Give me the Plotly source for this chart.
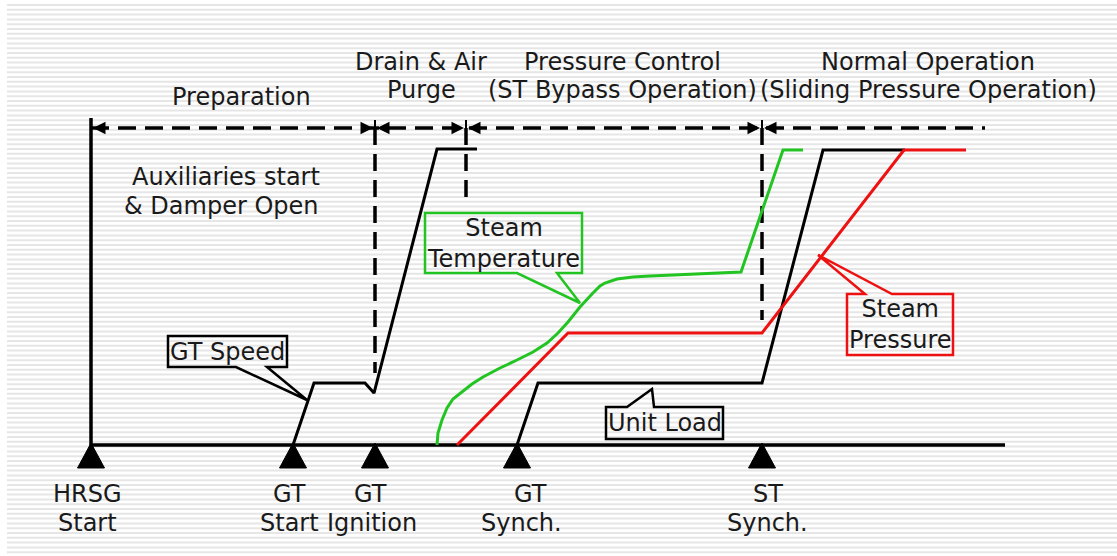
import numpy as np
import plotly.graph_objects as go

# ---------------- data (x in px-like time units, y = level above baseline) ----------------
event_x = [91, 293, 375, 517, 762]
event_top = ["HRSG", "GT", "GT", "GT", "ST"]
event_bottom = ["Start", "Start", "Ignition", "Synch.", "Synch."]
event_top_x = [87, 289, 370, 530, 768]
event_bottom_x = [87, 289, 372, 521, 767]

phase_bounds = [91, 375, 466, 762]
phase_end = 985
phase_line_y = 317
phase_dash_bottom = [None, 72, 248, 125]

phase_text_l1 = ["", "Drain & Air", "Pressure Control", "Normal Operation"]
phase_text_l2 = ["Preparation", "Purge", "(ST Bypass Operation)", "(Sliding Pressure Operation)"]
phase_text_x = [241, 421, 622, 928]

gt_speed_x = [293, 314, 365, 374, 437, 477]
gt_speed_y = [0, 62, 62, 52, 296, 296]

unit_load_x = [517, 538, 762, 823, 905]
unit_load_y = [0, 62, 62, 295, 295]

steam_press_x = [457, 568, 762, 904, 966]
steam_press_y = [0, 112, 112, 295, 295]

steam_temp_x = [437, 438, 442, 447, 453, 462, 472, 483, 500, 517, 533, 547, 558, 568,
                580, 592, 600, 605, 617, 633, 650, 741, 783, 803]
steam_temp_y = [0, 12, 25, 37, 46, 53, 61, 68, 77, 85, 93, 102, 112, 123,
                138, 151, 159, 162, 166, 168, 169, 173, 295, 295]

# callouts: box left, right, top, bottom, pointer side, base1, base2, tip x, tip y
callout_names = ["GT Speed", "Steam<br>Temperature", "Steam<br>Pressure", "Unit Load"]
callout_color = ["#000000", "#22c422", "#ee1111", "#000000"]
callout_box = [(168, 287, 109, 78), (425, 582, 232, 172), (847, 953, 151, 90), (606, 723, 38, 6)]
callout_ptr = [("bottom", 236, 267, 307, 45), ("bottom", 517, 557, 580, 142),
               ("top", 865, 892, 818, 190), ("top", 627, 654, 652, 56)]

axis_top = 327
baseline_end = 1005

TXT = "#1a1a1a"
FONT = "DejaVu Sans"
FS = 24

fig = go.Figure()

# background ruled stripes
stripe_path = "".join(f"M7,{445 - py:.2f} H1117 " for py in np.arange(5, 556, 4.8))
fig.add_shape(type="path", path=stripe_path, xref="x", yref="y",
              line=dict(color="#e6e6e6", width=2), layer="below")

# axes: vertical and baseline
fig.add_trace(go.Scatter(x=[event_x[0], event_x[0], baseline_end], y=[axis_top, 0, 0],
                         mode="lines", line=dict(color="black", width=3.5),
                         hoverinfo="skip", showlegend=False))

# dashed phase line and dashed verticals
fig.add_trace(go.Scatter(x=[phase_bounds[0], phase_end], y=[phase_line_y, phase_line_y],
                         mode="lines", line=dict(color="black", width=3.5, dash="18px,9px"),
                         hoverinfo="skip", showlegend=False))
for bx, bb in zip(phase_bounds, phase_dash_bottom):
    if bb is not None:
        fig.add_trace(go.Scatter(x=[bx, bx], y=[phase_line_y, bb], mode="lines",
                                 line=dict(color="black", width=3.5, dash="17px,9px"),
                                 hoverinfo="skip", showlegend=False))
        fig.add_trace(go.Scatter(x=[bx, bx], y=[phase_line_y + 8, phase_line_y - 8], mode="lines",
                                 line=dict(color="black", width=2),
                                 hoverinfo="skip", showlegend=False))

# arrowheads on phase line
for i, bx in enumerate(phase_bounds):
    fig.add_annotation(x=bx + 2, y=phase_line_y, ax=bx + 14, ay=phase_line_y,
                       xref="x", yref="y", axref="x", ayref="y", text="",
                       showarrow=True, arrowhead=2, arrowsize=1, arrowwidth=2.5, arrowcolor="black")
    if i > 0:
        fig.add_annotation(x=bx - 2, y=phase_line_y, ax=bx - 14, ay=phase_line_y,
                           xref="x", yref="y", axref="x", ayref="y", text="",
                           showarrow=True, arrowhead=2, arrowsize=1, arrowwidth=2.5, arrowcolor="black")

# curves
fig.add_trace(go.Scatter(x=gt_speed_x, y=gt_speed_y, mode="lines",
                         line=dict(color="black", width=3), showlegend=False))
fig.add_trace(go.Scatter(x=unit_load_x, y=unit_load_y, mode="lines",
                         line=dict(color="black", width=3), showlegend=False))
fig.add_trace(go.Scatter(x=steam_temp_x, y=steam_temp_y, mode="lines",
                         line=dict(color="#22c422", width=3), showlegend=False))
fig.add_trace(go.Scatter(x=steam_press_x, y=steam_press_y, mode="lines",
                         line=dict(color="#ee1111", width=3), showlegend=False))

# event triangles
tri_x, tri_y = [], []
for ex in event_x:
    tri_x += [ex - 13.5, ex + 13.5, ex, ex - 13.5, None]
    tri_y += [-23, -23, 2, -23, None]
fig.add_trace(go.Scatter(x=tri_x, y=tri_y, mode="lines", fill="toself", fillcolor="black",
                         line=dict(color="black", width=1), hoverinfo="skip", showlegend=False))

for tx, t in zip(event_top_x, event_top):
    fig.add_annotation(x=tx, y=-49, text=t, showarrow=False, xref="x", yref="y",
                       font=dict(family=FONT, size=FS, color=TXT))
for tx, t in zip(event_bottom_x, event_bottom):
    fig.add_annotation(x=tx, y=-78, text=t, showarrow=False, xref="x", yref="y",
                       font=dict(family=FONT, size=FS, color=TXT))

# phase texts
for px_, t1, t2 in zip(phase_text_x, phase_text_l1, phase_text_l2):
    if t1:
        fig.add_annotation(x=px_, y=383, text=t1, showarrow=False,
                           font=dict(family=FONT, size=FS, color=TXT))
        fig.add_annotation(x=px_, y=355, text=t2, showarrow=False,
                           font=dict(family=FONT, size=FS, color=TXT))
    else:
        fig.add_annotation(x=px_, y=348, text=t2, showarrow=False,
                           font=dict(family=FONT, size=FS, color=TXT))

fig.add_annotation(x=226, y=268, text="Auxiliaries start", showarrow=False,
                   font=dict(family=FONT, size=FS, color=TXT))
fig.add_annotation(x=221, y=239, text="&amp; Damper Open", showarrow=False,
                   font=dict(family=FONT, size=FS, color=TXT))

# callouts
for name, col, box, ptr in zip(callout_names, callout_color, callout_box, callout_ptr):
    L, R, T, B = box
    side, b1, b2, tx, ty = ptr
    if side == "bottom":
        path = f"M{L},{T} H{R} V{B} H{b2} L{tx},{ty} L{b1},{B} H{L} Z"
    else:
        path = f"M{L},{B} H{R} V{T} H{b2} L{tx},{ty} L{b1},{T} H{L} Z"
    fig.add_shape(type="path", path=path, xref="x", yref="y",
                  line=dict(color=col, width=2.5))
    fig.add_annotation(x=(L + R) / 2, y=(T + B) / 2, text=name, showarrow=False,
                       font=dict(family=FONT, size=FS, color=TXT))

fig.update_layout(
    width=1117, height=556,
    margin=dict(l=0, r=0, t=0, b=0),
    paper_bgcolor="white", plot_bgcolor="white",
    xaxis=dict(range=[0, 1117], visible=False, fixedrange=True),
    yaxis=dict(range=[-111, 445], visible=False, fixedrange=True),
    showlegend=False,
)
fig.write_html("out.html", config={"displayModeBar": False},
               post_script="document.body.style.margin='0px';document.body.style.overflow='hidden';")
